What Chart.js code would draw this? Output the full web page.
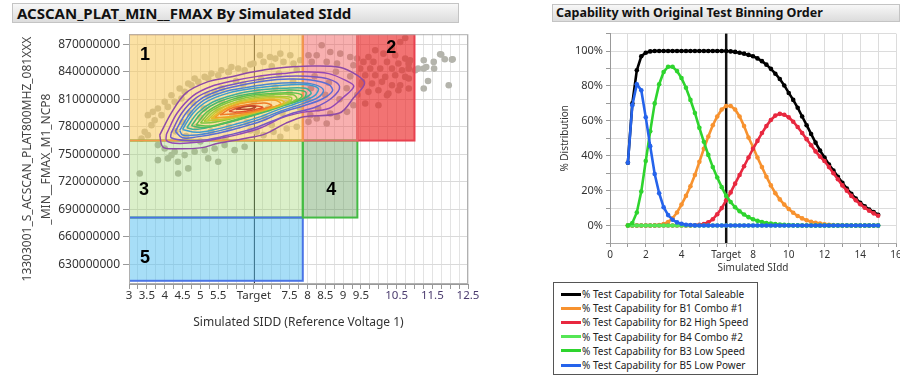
<!DOCTYPE html>
<html>
<head>
<meta charset="utf-8">
<script src="https://cdn.jsdelivr.net/npm/chart.js@4.4.0/dist/chart.umd.min.js"></script>
<style>
  html, body { margin: 0; padding: 0; background: #fff; }
  body { width: 900px; height: 377px; overflow: hidden; position: relative; font-family: "Noto Sans", sans-serif; }
  .titlebar { position: absolute; box-sizing: border-box; background: linear-gradient(#f7f7f7, #dcdcdc); border: 1px solid #c4c4c4; font-weight: bold; color: #111; white-space: nowrap; }
  #leftTitle { left: 12px; top: 3px; width: 447px; height: 20px; font-size: 15px; line-height: 18px; padding-left: 4px; }
  #rightTitle { left: 552px; top: 4px; width: 348px; height: 18px; font-size: 12.5px; line-height: 16px; padding-left: 3px; }
  canvas { position: absolute; }
  #fmaxCanvas { left: 0; top: 24px; }
  #capCanvas { left: 540px; top: 24px; }
  #capLegend { position: absolute; left: 553px; top: 282px; width: 205px; height: 93px; box-sizing: border-box; border: 1px solid #555; padding-top: 4px; background: #fff; }
  .item { height: 14.2px; display: flex; align-items: center; font-size: 10px; color: #222; white-space: nowrap; }
  .swatch { width: 20px; height: 3px; margin-left: 7px; margin-right: 1px; }
</style>
</head>
<body>
<div id="leftTitle" class="titlebar">ACSCAN_PLAT_MIN__FMAX By Simulated SIdd</div>
<div id="rightTitle" class="titlebar">Capability with Original Test Binning Order</div>
<canvas id="fmaxCanvas" width="480" height="316"></canvas>
<canvas id="capCanvas" width="380" height="256"></canvas>
<div id="capLegend"></div>

<script>
// ---------------- left panel: Fmax vs simulated SIdd ----------------
const targetSIdd = 6.5;

const sIddTickValues = [3, 3.5, 4, 4.5, 5, 5.5, 6.5, 7.5, 8, 8.5, 9, 9.5, 10.5, 11.5, 12.5];
const sIddTickText = ['3', '3.5', '4', '4.5', '5', '5.5', 'Target', '7.5', '8', '8.5', '9', '9.5', '10.5', '11.5', '12.5'];
const fmaxTickValues = [630, 660, 690, 720, 750, 780, 810, 840, 870]; // millions

// die readings [SIdd, Fmax in millions]
const dies = [
  [6.06,843.5],[5.78,839.9],[5.50,836.2],[5.22,832.6],[4.94,829.0],[4.75,825.3],[4.56,818.1],[4.47,810.8],
  [4.28,807.2],[4.09,801.7],[3.91,792.7],[3.72,787.2],[3.53,792.7],[3.63,781.8],[3.44,774.5],[3.35,767.2],
  [3.53,770.9],[5.87,845.3],[6.24,841.7],[5.59,841.7],[5.31,838.0],[5.12,834.4],[4.84,832.6],[4.66,827.2],
  [4.42,821.7],[4.19,814.4],[4.00,807.2],[3.81,799.9],[3.67,796.3],
  [3.81,760.0],[4.00,756.3],[4.28,752.7],[4.56,749.1],[4.84,752.7],[5.12,754.5],[5.40,756.3],[5.68,760.0],
  [5.96,754.5],[6.24,758.2],[4.09,745.5],[3.81,743.6],[4.37,741.8],[4.66,734.6],[5.22,745.5],[5.50,741.8],
  [4.19,749.1],[3.30,729.1],[4.38,729.1],
  [6.67,858.0],[6.95,856.2],[7.24,859.8],[7.52,858.0],[7.80,852.6],[6.77,850.8],[7.33,850.8],[7.61,849.0],
  [7.10,854.4],[6.49,849.0],[7.05,774.5],[7.42,778.1],[7.70,780.0],[6.77,770.9],[6.58,774.5],[7.24,769.1],
  [8.40,868.9],[8.64,861.6],[8.26,858.0],[8.92,859.8],[9.20,856.2],[8.12,850.8],[8.54,850.8],[8.83,849.0],
  [9.29,847.1],[8.03,858.0],[9.39,854.4],[8.26,789.0],[8.54,783.6],[8.83,790.8],[9.11,796.3],[8.08,792.7],
  [9.29,803.5],[8.64,794.5],[8.03,785.4],
  [10.74,876.9],[10.60,872.5],[10.37,865.3],[9.90,863.5],[10.13,859.8],[9.71,856.2],[10.46,858.0],[10.74,854.4],
  [9.57,850.8],[9.85,850.8],[10.23,850.8],[10.55,849.0],[10.84,849.0],[9.48,843.5],[9.76,843.5],[10.04,843.5],
  [10.37,843.5],[10.65,841.7],[9.62,836.2],[9.90,836.2],[10.18,834.4],[10.46,836.2],[10.74,834.4],[9.53,829.0],
  [9.81,827.2],[10.09,829.0],[10.37,825.3],[10.60,825.3],[10.84,821.7],[9.71,818.1],[9.99,819.9],[10.27,816.3],
  [10.55,819.9],[9.62,805.4],[9.99,803.5],[10.23,814.4],[10.84,832.6],[10.88,852.6],[10.84,843.5],
  [11.26,852.6],[11.54,850.8],[11.75,858.8],[11.85,853.7],[12.07,853.7],[11.10,843.5],[11.26,843.5],[11.33,845.3],
  [11.55,843.5],[11.38,830.0],[11.26,821.7],[11.96,825.3],[11.02,841.7],[11.72,859.1],[12.05,853.3],
  [4.3,775],[4.5,785],[4.7,795],[4.6,770],[4.9,780],[5.0,790],[5.1,800],[5.2,815],[5.3,775],[5.4,788],
  [5.5,798],[5.6,808],[5.6,822],[5.8,780],[5.9,792],[6.0,802],[6.1,812],[6.2,826],[6.3,785],[6.4,797],
  [6.5,807],[6.6,818],[6.7,832],[6.8,790],[6.9,800],[7.0,812],[7.1,823],[7.2,838],[7.3,795],[7.4,806],
  [7.5,817],[7.6,829],[7.7,842],[7.8,800],[8.0,810],[8.1,822],[8.2,835],[8.3,800],[8.5,815],[8.6,828],
  [8.8,840],[8.9,810],[9.1,822],[9.2,835],[9.4,815],[9.5,826],[5.0,764],[5.7,768],[6.4,776],[7.0,782],
  [4.8,806],[5.4,818],[6.0,830],[5.8,840],[6.4,848],[7.0,846]
];

// density contours, outer to inner [SIdd, Fmax in millions]
const contour1 = [[3.86,771],[4.2,796],[4.6,817],[5.2,829],[5.8,834],[6.5,840],[7.2,844],[7.9,846],[8.9,845],[9.4,836],[9.6,827],[9.3,812],[8.9,795],[7.9,791],[7.4,784],[6.8,772],[6.2,767],[5.5,762],[5.0,757],[4.3,756],[3.95,758],[3.86,771]];
const contour2 = [[4.05,772],[4.35,795],[4.8,814],[5.3,824],[5.9,830],[6.6,835],[7.3,838],[7.9,840],[8.6,838],[9.1,830],[9.3,824],[9.0,812],[8.6,800],[7.9,796],[7.3,790],[6.7,779],[6.1,772],[5.5,767],[4.9,763],[4.3,762],[4.05,765],[4.05,772]];
const contour3 = [[4.18,773],[4.48,795],[4.9,812],[5.4,821],[6.0,827],[6.7,832],[7.4,835],[8.0,835],[8.6,832],[8.9,824],[8.7,812],[8.2,801],[7.6,795],[7.0,786],[6.4,777],[5.8,771],[5.2,766],[4.6,765],[4.18,768],[4.18,773]];
const contour4 = [[4.3,775],[4.6,795],[5.0,810],[5.5,819],[6.1,825],[6.8,830],[7.5,832],[8.1,831],[8.6,826],[8.7,819],[8.4,810],[7.9,803],[7.3,796],[6.7,786],[6.1,779],[5.5,773],[4.9,769],[4.5,768],[4.3,775]];
const contour5 = [[4.42,776],[4.72,795],[5.1,809],[5.65,818],[6.3,823],[7.0,827],[7.7,828],[8.2,826],[8.45,820],[8.3,812],[7.85,805],[7.25,797],[6.65,788],[6.05,781],[5.45,775],[4.9,771],[4.5,771],[4.42,776]];
const contour6 = [[4.5,777],[4.8,795],[5.2,808],[5.8,817],[6.5,822],[7.2,825],[7.9,826],[8.3,822],[8.2,814],[7.8,807],[7.2,799],[6.6,790],[6.0,783],[5.4,777],[4.9,774],[4.5,777]];
const contour7 = [[4.62,779],[4.92,795],[5.35,807],[5.95,815],[6.65,820],[7.35,822],[7.95,822],[8.1,816],[7.7,808],[7.1,801],[6.5,793],[5.9,786],[5.3,780],[4.85,777],[4.62,779]];
const contour8 = [[4.75,781],[5.05,796],[5.5,807],[6.1,814],[6.8,818],[7.5,820],[7.95,818],[7.9,811],[7.4,804],[6.8,796],[6.2,789],[5.6,783],[5.1,779],[4.75,781]];
const contour9 = [[4.88,782],[5.18,796],[5.62,806],[6.2,813],[6.9,816],[7.55,817],[7.85,814],[7.6,807],[7.1,801],[6.5,794],[5.9,787],[5.3,781],[4.88,782]];
const contour10 = [[5.0,784],[5.3,797],[5.75,806],[6.3,812],[7.0,815],[7.6,815],[7.7,810],[7.2,803],[6.6,796],[6.0,790],[5.4,785],[5.0,784]];
const contour11 = [[5.1,786],[5.4,797],[5.85,805],[6.4,811],[7.05,813],[7.55,812],[7.5,807],[7.0,801],[6.4,794],[5.8,789],[5.1,786]];
const contour12 = [[5.2,787],[5.5,798],[5.95,806],[6.5,810],[7.1,812],[7.5,810],[7.3,804],[6.8,798],[6.2,792],[5.6,788],[5.2,787]];
const contour13 = [[5.3,789],[5.6,798],[6.0,805],[6.55,809],[7.1,810],[7.35,807],[7.1,802],[6.6,797],[6.0,792],[5.3,789]];
const contour14 = [[5.4,790],[5.7,799],[6.1,805],[6.6,808],[7.1,809],[7.25,805],[6.9,800],[6.4,795],[5.9,791],[5.4,790]];
const contour15 = [[5.55,793],[5.85,800],[6.3,804],[6.8,806],[7.0,803],[6.7,799],[6.2,795],[5.55,793]];
const contour16 = [[5.8,797],[6.1,801],[6.5,803],[6.75,801],[6.4,798],[6.0,796],[5.8,797]];
const contour17 = [[6.0,799],[6.25,802],[6.55,802],[6.4,799.5],[6.0,799]];
const contours = [contour1, contour2, contour3, contour4, contour5, contour6, contour7, contour8, contour9,
  contour10, contour11, contour12, contour13, contour14, contour15, contour16, contour17];
const contourColors = ['#8e4aa6', '#9448b4', '#7656c4', '#5a6cd4', '#4a86d2', '#3d9ccf', '#3fae9a', '#47b86a', '#5cc04e',
  '#80c640', '#a6c93a', '#c8c630', '#e4bc28', '#f0a028', '#f07a26', '#e0502a', '#b8442a'];

// bin limit boxes (SIdd low/high, Fmax low/high in millions)
const binSIddLow  = [3,    3,    7.87, 9.4, 7.87, 3];
const binSIddHigh = [7.87, 7.87, 9.4,  11,  9.4,  7.87];
const binFmaxLow  = [681,  612,  681,  765, 765,  765];
const binFmaxHigh = [765,  681,  765,  881, 881,  881];
const binFill = ['rgba(150,210,100,0.35)', 'rgba(80,190,240,0.5)', 'rgba(90,150,80,0.4)', 'rgba(235,40,40,0.65)', 'rgba(240,80,80,0.45)', 'rgba(248,200,90,0.55)'];
const binStroke = ['#4cc84c', '#4a74e6', '#44bb44', '#e8404e', '#e86a6a', '#f39a4a'];

const binText = ['1', '2', '3', '4', '5'];
const binTextSIdd = [3.45, 10.35, 3.42, 8.67, 3.45];
const binTextFmax = [858, 865.6, 711, 711, 637];

// ---------------- right panel: capability curves ----------------
const capSIdd = [1, 1.25, 1.5, 1.75, 2, 2.25, 2.5, 2.75, 3, 3.25, 3.5, 3.75, 4, 4.25, 4.5, 4.75, 5, 5.25, 5.5, 5.75,
  6, 6.25, 6.5, 6.75, 7, 7.25, 7.5, 7.75, 8, 8.25, 8.5, 8.75, 9, 9.25, 9.5, 9.75, 10, 10.25, 10.5, 10.75,
  11, 11.25, 11.5, 11.75, 12, 12.25, 12.5, 12.75, 13, 13.25, 13.5, 13.75, 14, 14.25, 14.5, 14.75, 15];
const capTotal = [36, 70, 89, 97, 99, 99.8, 100, 100, 100, 100, 100, 100, 100, 100, 100, 100, 100, 100, 100, 100,
  100, 100, 100, 99.8, 99.5, 99, 98.5, 97.8, 97, 95.8, 94.2, 92.2, 89.8, 87, 84, 80.3, 76, 72, 67.5, 62.5,
  57.5, 52.5, 47.5, 43, 39, 35, 31.5, 28, 24.5, 21.2, 18.2, 15.5, 13, 11, 9.2, 7.7, 6.2];
const capB1 = [0, 0, 0, 0, 0, 0, 0.1, 0.3, 0.9, 2, 4.2, 7.5, 12, 17, 22.5, 29, 36.5, 44, 51, 57.5,
  62.5, 66.5, 68.5, 68.5, 66.5, 62.5, 57, 50.5, 45, 39, 33.5, 28, 23, 18.5, 15, 12, 9.5, 7.3, 5.5, 4.1,
  3, 2.2, 1.6, 1.1, 0.7, 0.5, 0.3, 0.2, 0.1, 0, 0, 0, 0, 0, 0, 0, 0];
const capB2 = [0, 0, 0, 0, 0, 0, 0, 0, 0, 0, 0, 0, 0, 0, 0.1, 0.2, 0.4, 0.9, 1.9, 3.6,
  6.5, 10, 14.5, 19, 24, 29, 34, 39, 44, 48.5, 53, 57, 60.5, 63, 64, 63.5, 62, 59.5, 56.5, 53,
  49.5, 46, 42.5, 39.5, 37, 33.5, 30, 26.5, 23, 20, 17, 14.5, 12.2, 10.2, 8.5, 7, 5.6];
const capB4 = [0, 0, 0, 0, 0, 0, 0, 0, 0, 0, 0, 0, 0, 0, 0, 0, 0, 0, 0, 0,
  0, 0, 0, 0, 0, 0, 0, 0, 0, 0, 0, 0, 0, 0, 0, 0, 0, 0, 0, 0,
  0, 0, 0, 0, 0, 0, 0, 0, 0, 0, 0, 0, 0, 0, 0, 0, 0];
const capB3 = [0, 1.5, 7.5, 19.5, 37, 54, 70, 81, 88, 91, 91, 88.5, 84.5, 79, 72, 64.5, 56, 48, 40.5, 33.5,
  27.5, 22, 17, 13.5, 10.5, 8.2, 6.3, 4.8, 3.6, 2.7, 2, 1.5, 1.1, 0.8, 0.6, 0.4, 0.3, 0.2, 0.1, 0,
  0, 0, 0, 0, 0, 0, 0, 0, 0, 0, 0, 0, 0, 0, 0, 0, 0];
const capB5 = [36, 69, 81, 77.5, 62, 45.5, 29.5, 18.5, 10.5, 6, 3.3, 1.8, 1, 0.5, 0.3, 0.1, 0, 0, 0, 0,
  0, 0, 0, 0, 0, 0, 0, 0, 0, 0, 0, 0, 0, 0, 0, 0, 0, 0, 0, 0,
  0, 0, 0, 0, 0, 0, 0, 0, 0, 0, 0, 0, 0, 0, 0, 0, 0];

const capNames = ['% Test Capability for Total Saleable', '% Test Capability for B1 Combo #1', '% Test Capability for B2 High Speed',
  '% Test Capability for B4 Combo #2', '% Test Capability for B3 Low Speed', '% Test Capability for B5 Low Power'];
const capValues = [capTotal, capB1, capB2, capB4, capB3, capB5];
const capColors = ['#000000', '#f7922f', '#e8283f', '#55e655', '#2ed42e', '#2563eb'];
const capDrawOrder = [5, 4, 3, 2, 1, 0];

const capTickValues = [0, 2, 4, 6.5, 8, 10, 12, 14, 16];
const capTickText = ['0', '2', '4', 'Target', '8', '10', '12', '14', '16'];
const pctTickValues = [0, 20, 40, 60, 80, 100];

Chart.defaults.font.family = '"Noto Sans", sans-serif';
Chart.defaults.color = '#333';

function labelFor(values, texts, value) {
  const i = values.findIndex(v => Math.abs(v - value) < 1e-6);
  return i >= 0 ? texts[i] : '';
}

// boxes, target line and bin numbers for the left panel
const binPlugin = {
  id: 'bins',
  beforeDatasetsDraw(chart) {
    const { ctx, chartArea, scales } = chart;
    const x = Math.round(scales.x.getPixelForValue(targetSIdd)) + 0.5;
    ctx.save();
    ctx.strokeStyle = '#333';
    ctx.lineWidth = 1;
    ctx.beginPath();
    ctx.moveTo(x, chartArea.top);
    ctx.lineTo(x, chartArea.bottom);
    ctx.stroke();
    ctx.restore();
  },
  afterDatasetDraw(chart, args) {
    if (args.index !== 0) return;
    const { ctx, chartArea, scales } = chart;
    ctx.save();
    ctx.beginPath();
    ctx.rect(chartArea.left, chartArea.top, chartArea.right - chartArea.left, chartArea.bottom - chartArea.top);
    ctx.clip();
    for (let i = 0; i < binSIddLow.length; i++) {
      const x0 = scales.x.getPixelForValue(binSIddLow[i]);
      const x1 = scales.x.getPixelForValue(binSIddHigh[i]);
      const y0 = scales.y.getPixelForValue(binFmaxHigh[i] * 1e6);
      const y1 = scales.y.getPixelForValue(binFmaxLow[i] * 1e6);
      ctx.fillStyle = binFill[i];
      ctx.fillRect(x0, y0, x1 - x0, y1 - y0);
    }
    for (let i = 0; i < binSIddLow.length; i++) {
      const x0 = scales.x.getPixelForValue(binSIddLow[i]);
      const x1 = scales.x.getPixelForValue(binSIddHigh[i]);
      const y0 = scales.y.getPixelForValue(binFmaxHigh[i] * 1e6);
      const y1 = scales.y.getPixelForValue(binFmaxLow[i] * 1e6);
      ctx.strokeStyle = binStroke[i];
      ctx.lineWidth = 2;
      ctx.strokeRect(x0, y0, x1 - x0, y1 - y0);
    }
    ctx.restore();
  },
  afterDraw(chart) {
    const { ctx, chartArea, scales } = chart;
    ctx.save();
    ctx.strokeStyle = '#b0b0b0';
    ctx.lineWidth = 1;
    ctx.strokeRect(chartArea.left + 0.5, chartArea.top + 0.5, chartArea.right - chartArea.left - 1, chartArea.bottom - chartArea.top - 1);
    ctx.fillStyle = '#000';
    ctx.font = 'bold 18px "Liberation Sans", Arial, sans-serif';
    ctx.textAlign = 'center';
    ctx.textBaseline = 'middle';
    binText.forEach((t, i) => {
      ctx.fillText(t, scales.x.getPixelForValue(binTextSIdd[i]), scales.y.getPixelForValue(binTextFmax[i] * 1e6));
    });
    ctx.restore();
  }
};

const fmaxDatasets = [{
  label: 'dies',
  data: dies.map(d => ({ x: d[0], y: d[1] * 1e6 })),
  pointRadius: 3.3,
  pointBorderWidth: 0,
  backgroundColor: '#b4b4ac',
  order: 30
}];
contours.forEach((c, k) => {
  fmaxDatasets.push({
    label: 'contour ' + (k + 1),
    data: c.map(p => ({ x: p[0], y: p[1] * 1e6 })),
    showLine: true,
    pointRadius: 0,
    borderColor: contourColors[k],
    borderWidth: 1.5,
    tension: 0.35,
    fill: false,
    order: 20 - k
  });
});

new Chart(document.getElementById('fmaxCanvas'), {
  type: 'scatter',
  data: { datasets: fmaxDatasets },
  options: {
    responsive: false,
    animation: false,
    devicePixelRatio: 1,
    layout: { padding: { top: 10, right: 12, bottom: 0, left: 0 } },
    plugins: { legend: { display: false }, tooltip: { enabled: false } },
    scales: {
      x: {
        type: 'linear',
        min: 3,
        max: 12.5,
        afterFit: s => { s.height = 56; },
        grid: { color: '#e3e3e3', tickColor: '#999', tickLength: 5 },
        border: { color: '#999' },
        ticks: {
          stepSize: 0.25,
          autoSkip: false,
          maxRotation: 0,
          padding: 0,
          font: { size: 11.5 },
          color: c => (c.tick && c.tick.value > 10) ? '#4a3b6e' : '#333',
          callback: v => labelFor(sIddTickValues, sIddTickText, v)
        },
        title: {
          display: true,
          text: 'Simulated SIDD (Reference Voltage 1)',
          font: { size: 12 },
          color: '#333',
          padding: { top: 0, bottom: 10 }
        }
      },
      y: {
        min: 608.5e6,
        max: 881e6,
        afterFit: s => { s.width = 129; },
        afterBuildTicks: axis => { axis.ticks = fmaxTickValues.map(v => ({ value: v * 1e6 })); },
        grid: { color: '#dadada', tickColor: '#999', tickLength: 6 },
        border: { color: '#999' },
        ticks: {
          padding: 3,
          font: { size: 12 },
          callback: v => Math.round(v).toString()
        },
        title: {
          display: true,
          text: ['13303001_S_ACSCAN_PLAT800MHZ_081XXX', '_MIN__FMAX_M1_NCP8'],
          font: { size: 12, lineHeight: 1.6 },
          color: '#444',
          padding: { top: 18, bottom: 0 }
        }
      }
    }
  },
  plugins: [binPlugin]
});

// target line for the right panel
const targetPlugin = {
  id: 'target',
  beforeDatasetsDraw(chart) {
    const { ctx, chartArea, scales } = chart;
    const x = scales.x.getPixelForValue(targetSIdd);
    ctx.save();
    ctx.strokeStyle = '#111';
    ctx.lineWidth = 2.5;
    ctx.beginPath();
    ctx.moveTo(x, chartArea.top);
    ctx.lineTo(x, chartArea.bottom);
    ctx.stroke();
    ctx.restore();
  }
};

new Chart(document.getElementById('capCanvas'), {
  type: 'line',
  data: {
    datasets: capValues.map((vals, i) => ({
      label: capNames[i],
      data: capSIdd.map((x, j) => ({ x: x, y: vals[j] })),
      borderColor: capColors[i],
      backgroundColor: capColors[i],
      borderWidth: 2.6,
      pointRadius: 2.3,
      pointBorderWidth: 0,
      tension: 0,
      fill: false,
      order: capDrawOrder[i]
    }))
  },
  options: {
    responsive: false,
    animation: false,
    devicePixelRatio: 1,
    layout: { padding: { top: 5, right: 24, bottom: 0, left: 0 } },
    plugins: { legend: { display: false }, tooltip: { enabled: false } },
    scales: {
      x: {
        type: 'linear',
        min: 0,
        max: 16,
        afterFit: s => { s.height = 37; },
        afterBuildTicks: axis => {
          axis.ticks.push({ value: targetSIdd });
          axis.ticks.sort((a, b) => a.value - b.value);
        },
        grid: { color: '#dcdcdc', tickColor: '#999', tickLength: 4 },
        border: { color: '#aaa' },
        ticks: {
          stepSize: 1,
          autoSkip: false,
          maxRotation: 0,
          padding: 2,
          font: { size: 10 },
          callback: v => labelFor(capTickValues, capTickText, v)
        },
        title: {
          display: true,
          text: 'Simulated SIdd',
          font: { size: 10 },
          color: '#333',
          padding: { top: 0, bottom: 6 }
        }
      },
      y: {
        min: -10,
        max: 110,
        afterFit: s => { s.width = 70; },
        grid: { color: '#dcdcdc', tickColor: '#999', tickLength: 4 },
        border: { color: '#999' },
        ticks: {
          stepSize: 10,
          autoSkip: false,
          padding: 3,
          font: { size: 11 },
          callback: v => {
            const t = labelFor(pctTickValues, pctTickValues, v);
            return t === '' ? '' : t + '%';
          }
        },
        title: {
          display: true,
          text: '% Distribution',
          font: { size: 10 },
          color: '#333',
          padding: { top: 19, bottom: 0 }
        }
      }
    }
  },
  plugins: [targetPlugin]
});

// legend box under the right panel
const legendBox = document.getElementById('capLegend');
capNames.forEach((name, i) => {
  const row = document.createElement('div');
  row.className = 'item';
  const sw = document.createElement('span');
  sw.className = 'swatch';
  sw.style.background = capColors[i];
  row.appendChild(sw);
  const txt = document.createElement('span');
  txt.textContent = name;
  row.appendChild(txt);
  legendBox.appendChild(row);
});
</script>
</body>
</html>
